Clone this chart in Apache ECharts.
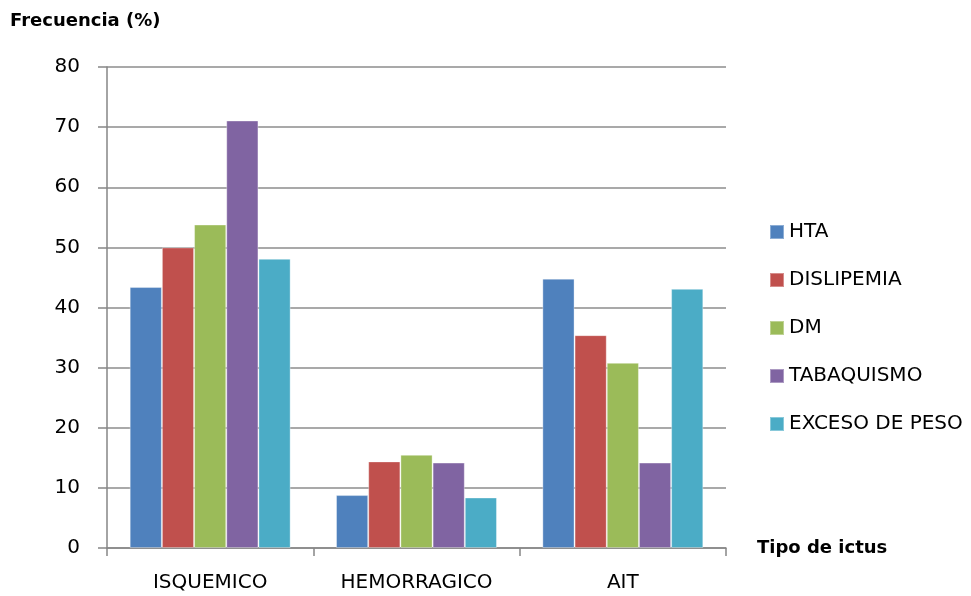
<!DOCTYPE html>
<html>
<head>
<meta charset="utf-8">
<script src="https://cdn.jsdelivr.net/npm/echarts@6/dist/echarts.min.js"></script>
<style>
  html, body { margin: 0; padding: 0; background: #fff; }
  #chart { width: 971px; height: 596px; }
</style>
</head>
<body>
<div id="chart"></div>
<script>
// Stroke type vs. risk factor frequency
const categories = ['ISQUEMICO', 'HEMORRAGICO', 'AIT'];
const seriesNames = ['HTA', 'DISLIPEMIA', 'DM', 'TABAQUISMO', 'EXCESO DE PESO'];
const hta = [43.4, 8.8, 44.8];
const dislipemia = [50.0, 14.4, 35.4];
const dm = [53.8, 15.5, 30.8];
const tabaquismo = [71.1, 14.2, 14.2];
const excesoPeso = [48.1, 8.4, 43.1];
const colors = ['#4F81BD', '#C0504D', '#9BBB59', '#8064A2', '#4BACC6'];

const values = [hta, dislipemia, dm, tabaquismo, excesoPeso];
const font = 'DejaVu Sans';

const chart = echarts.init(document.getElementById('chart'));
chart.setOption({
  animation: false,
  color: colors,
  title: {
    text: 'Frecuencia (%)',
    left: 10,
    top: 12,
    padding: 0,
    textStyle: { fontFamily: font, fontSize: 18, fontWeight: 'bold', color: '#000' }
  },
  grid: { left: 107, right: 245, top: 67, bottom: 48, containLabel: false },
  legend: {
    orient: 'vertical',
    left: 769,
    top: 222,
    padding: 0,
    itemWidth: 14,
    itemHeight: 14,
    itemGap: 28,
    icon: 'rect',
    data: seriesNames,
    textStyle: { fontFamily: font, fontSize: 20, color: '#000', lineHeight: 20 }
  },
  xAxis: {
    type: 'category',
    data: categories,
    name: 'Tipo de ictus',
    nameLocation: 'end',
    nameGap: 31,
    nameTextStyle: { fontFamily: font, fontSize: 18, fontWeight: 'bold', color: '#000', verticalAlign: 'middle' },
    axisLine: { lineStyle: { color: '#868686', width: 1.5 } },
    axisTick: { show: true, length: 8, lineStyle: { color: '#868686', width: 1.5 } },
    axisLabel: { margin: 25, fontFamily: font, fontSize: 20, color: '#000' }
  },
  yAxis: {
    type: 'value',
    min: 0,
    max: 80,
    interval: 10,
    axisLine: { show: true, lineStyle: { color: '#868686', width: 1.5 } },
    axisTick: { show: true, length: 9, lineStyle: { color: '#868686', width: 1.5 } },
    axisLabel: { margin: 27, fontFamily: font, fontSize: 20, color: '#000' },
    splitLine: { lineStyle: { color: '#8c8c8c', width: 1.5 } }
  },
  series: seriesNames.map((name, i) => ({
    name: name,
    type: 'bar',
    data: values[i],
    barGap: '0%',
    barCategoryGap: '22%',
    itemStyle: { color: colors[i], borderColor: 'rgba(255,255,255,0.35)', borderWidth: 1 }
  }))
});
</script>
</body>
</html>
